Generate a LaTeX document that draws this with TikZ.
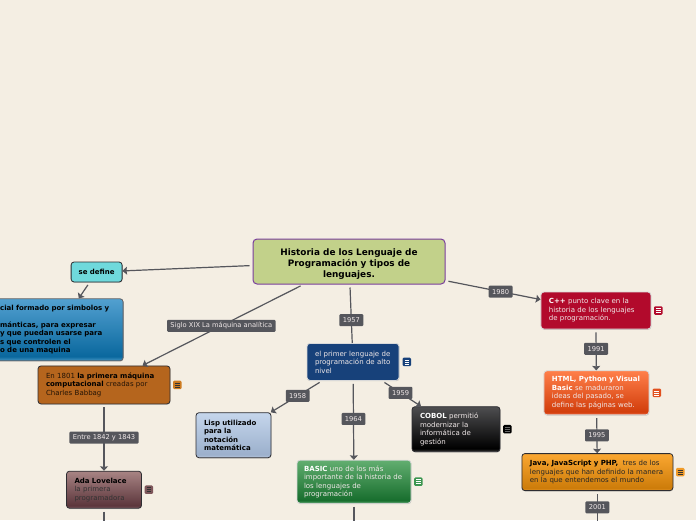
\documentclass[tikz,border=0pt]{standalone}
\usepackage{fontspec}
\setmainfont{DejaVu Sans}
\usetikzlibrary{arrows.meta, positioning, shadows}
\definecolor{mapBg}{RGB}{244,238,227}
\definecolor{mapLine}{RGB}{85,86,92}
\definecolor{mapEdge}{RGB}{45,45,50}
\definecolor{mapRoot}{RGB}{194,209,138}
\definecolor{mapPurple}{RGB}{122,62,157}
\definecolor{mapNavy}{RGB}{23,65,122}
\definecolor{mapBrown}{RGB}{181,101,29}
\definecolor{mapCrimson}{RGB}{178,10,44}
\definecolor{mapCyan}{RGB}{111,217,220}
\definecolor{mapNoteGreen}{RGB}{60,150,80}
\definecolor{mapNoteRed}{RGB}{225,80,30}
\definecolor{mapNoteOrange}{RGB}{240,155,40}
\definecolor{mapNoteRose}{RGB}{125,85,90}
\definecolor{softWhite}{RGB}{240,232,232}
\newcommand{\lipshading}[4]{\pgfdeclareverticalshading{#1}{100bp}{%
    color(0bp)=(#4); color(25bp)=(#4); color(28.5bp)=(#3); color(75bp)=(#2); color(100bp)=(#2)}}
\definecolor{skyTop}{RGB}{82,160,208}    \definecolor{skyBot}{RGB}{10,104,158}    \definecolor{skyLip}{RGB}{70,150,195}
\definecolor{roseTop}{RGB}{168,132,132}  \definecolor{roseBot}{RGB}{92,54,60}     \definecolor{roseLip}{RGB}{125,90,95}
\definecolor{iceTop}{RGB}{197,214,236}   \definecolor{iceBot}{RGB}{156,176,204}   \definecolor{iceLip}{RGB}{185,200,222}
\definecolor{inkTop}{RGB}{78,78,80}      \definecolor{inkBot}{RGB}{0,0,0}         \definecolor{inkLip}{RGB}{60,60,60}
\definecolor{leafTop}{RGB}{98,174,112}   \definecolor{leafBot}{RGB}{24,110,46}    \definecolor{leafLip}{RGB}{70,150,90}
\definecolor{flameTop}{RGB}{255,127,74}  \definecolor{flameBot}{RGB}{210,62,12}   \definecolor{flameLip}{RGB}{235,100,60}
\definecolor{amberTop}{RGB}{251,167,49}  \definecolor{amberBot}{RGB}{205,124,10}  \definecolor{amberLip}{RGB}{235,150,40}
\lipshading{skyfade}{skyTop}{skyBot}{skyLip}
\lipshading{rosefade}{roseTop}{roseBot}{roseLip}
\lipshading{icefade}{iceTop}{iceBot}{iceLip}
\lipshading{inkfade}{inkTop}{inkBot}{inkLip}
\lipshading{leaffade}{leafTop}{leafBot}{leafLip}
\lipshading{flamefade}{flameTop}{flameBot}{flameLip}
\lipshading{amberfade}{amberTop}{amberBot}{amberLip}
\tikzset{
    mapa/.style={>={Stealth[length=4.5pt,width=8pt,inset=.5pt]}, x=1pt, y=-1pt,
                 font=\fontsize{7}{8.5}\selectfont},
    topic/.style={draw=mapEdge, line width=.8pt, rounded corners=3pt, align=left,
                  inner xsep=8pt, inner ysep=2pt,
                  drop shadow={shadow xshift=.4pt, shadow yshift=-.8pt, opacity=.35}},
    lighttopic/.style={topic, draw=white!85!black, text=softWhite},
    faded/.style={shade, shading=#1},
    rootnode/.style={draw=mapPurple, line width=1pt, rounded corners=4pt, fill=mapRoot,
                     align=center, minimum width=192pt, minimum height=45pt,
                     font=\fontsize{8.9}{10.8}\selectfont\bfseries},
    arrow/.style={->, line width=1.2pt, draw=mapLine, shorten <=3pt},
    plainlink/.style={line width=1.2pt, draw=mapLine, shorten <=3pt},
    flowlabel/.style={fill=mapLine, text=softWhite, rounded corners=1pt, inner xsep=3.4pt,
                      inner ysep=0pt, minimum height=12pt, font=\fontsize{6.7}{7}\selectfont},
    notemark/.style 2 args={fill=#1, rounded corners=1.2pt, minimum size=8.5pt, inner sep=0pt,
                  path picture={\foreach \yy in {-2,0,2}
                      \draw[#2, line width=.6pt]
                      ([shift={(-2.3pt,\yy pt)}]path picture bounding box.center) --
                      ([shift={(2.3pt,\yy pt)}]path picture bounding box.center);}},
}

\begin{document}
\begin{tikzpicture}[mapa]

\path[use as bounding box, fill=mapBg] (0,0) rectangle (696,520);
\clip (0,0) rectangle (696,520);

% ─── Tema central ───────────────────────────────────────────
\node[rootnode] (root) at (349,261.5)
    {\rule{0pt}{12pt}Historia de los Lenguaje de\\Programación y tipos de\\lenguajes.};

% ─── Rama izquierda ─────────────────────────────────────────
\node[topic, fill=mapCyan, minimum width=51pt, minimum height=20pt, align=center, inner xsep=2pt,
      left=130pt of root, yshift=-10.5pt] (define) {\textbf{se define}};
\node[topic, faded=skyfade, draw=mapEdge!75, minimum height=62pt, text width=115pt,
      below=16pt of define, xshift=-39pt] (lenguaje)
    {\textbf{cial formado por simbolos y}\\[8.5pt]\textbf{mánticas, para expresar}\\
     \textbf{y que puedan usarse para}\\\textbf{s que controlen el}\\\textbf{o de una maquina}};
\node[topic, fill=mapBrown, text=black!80!mapBrown, minimum height=38pt, text width=116pt,
      below=81pt of root, xshift=-245pt] (babbage)
    {En 1801 \textbf{\color{black}la primera máquina}\\\textbf{\color{black}computacional} creadas por\\Charles Babbag};
\node[topic, faded=rosefade, text=black!80, minimum height=37pt, text width=59pt,
      below=66.5pt of babbage] (ada)
    {\textbf{\color{black}Ada Lovelace}\\la primera\\programadora};

% ─── Rama central ───────────────────────────────────────────
\node[lighttopic, fill=mapNavy, minimum height=37pt, text width=76pt,
      below=58.5pt of root, xshift=4pt] (altonivel)
    {el primer lenguaje de\\programación de alto\\nivel};
\node[topic, faded=icefade, minimum height=45pt, text width=59pt,
      below=31.5pt of altonivel, xshift=-119.5pt] (lisp)
    {\textbf{Lisp utilizado}\\\textbf{para la}\\\textbf{notación}\\\textbf{matemática}};
\node[topic, faded=inkfade, text=softWhite, minimum height=45pt, text width=72pt,
      below=25.5pt of altonivel, xshift=103pt] (cobol)
    {\textbf{\color{white}COBOL} permitió\\modernizar la\\informática de\\gestión};
\node[lighttopic, faded=leaffade, inner xsep=7pt, minimum height=43pt, text width=100pt,
      below=79pt of altonivel, xshift=1pt] (basic)
    {\textbf{\color{white}BASIC} uno de los más\\importante de la historia de\\los lenguajes de\\programación};

% ─── Rama derecha ───────────────────────────────────────────
\node[lighttopic, fill=mapCrimson, minimum height=37pt, text width=94pt,
      right=95pt of root, yshift=-49pt] (cpp)
    {\textbf{\color{white}C++} punto clave en la\\historia de los lenguajes\\de programación.};
\node[lighttopic, faded=flamefade, minimum height=44pt, text width=89pt,
      below=41pt of cpp, xshift=.5pt] (html)
    {\textbf{\color{white}HTML, Python y Visual}\\\textbf{\color{white}Basic} se maduraron\\ideas del pasado, se\\define las páginas web.};
\node[topic, faded=amberfade, text=black!85, minimum height=37pt, text width=135pt,
      below=38pt of html, xshift=1pt] (java)
    {\textbf{\color{black}Java, JavaScript y PHP,}\ \ tres de los\\lenguajes que han definido la manera\\en la que entendemos el mundo};

% ─── Marcas de nota ─────────────────────────────────────────
\node[notemark={mapNoteOrange!40!mapBrown}{black!80}, right=2.5pt of babbage] (babbagenote) {};
\node[notemark={mapNoteRose}{black!80}, right=2.5pt of ada] (adanote) {};
\node[notemark={mapNavy}{white}, right=3pt of altonivel] (altonivelnote) {};
\node[notemark={black}{black!60!white}, right=2.5pt of cobol] (cobolnote) {};
\node[notemark={mapNoteGreen}{white}, right=2.5pt of basic] (basicnote) {};
\node[notemark={mapCrimson}{white}, right=2.5pt of cpp] (cppnote) {};
\node[notemark={mapNoteRed}{white}, right=3pt of html] (htmlnote) {};
\node[notemark={mapNoteOrange}{black!80}, right=2.5pt of java] (javanote) {};

% ─── Extremos libres ────────────────────────────────────────
\coordinate[below=40pt of ada]   (adaend);
\coordinate[below=40pt of basic] (basicend);
\coordinate[below=40pt of java]  (javaend);

% ─── Conectores ─────────────────────────────────────────────
\draw[arrow] (root) -- (define);
\draw[arrow] (define) -- (lenguaje);
\draw[arrow] (root) -- node[flowlabel, pos=.51] (siglo) {Siglo XIX La máquina analítica} (babbage);
\draw[plainlink] (root) -- node[flowlabel, pos=.61] (l1957) {1957} (altonivel);
\draw[arrow] (root) -- node[flowlabel, pos=.58] (l1980) {1980} (cpp);
\draw[arrow] (babbage) -- node[flowlabel, pos=.5] (l1842) {Entre 1842 y 1843} (ada);
\draw[arrow] (altonivel) -- node[flowlabel, pos=.477] (l1958) {1958} (lisp);
\draw[arrow] (altonivel) -- node[flowlabel, pos=.476] (l1959) {1959} (cobol);
\draw[arrow] (altonivel) -- node[flowlabel, pos=.483] (l1964) {1964} (basic);
\draw[arrow] (cpp) -- node[flowlabel, pos=.472] (l1991) {1991} (html);
\draw[arrow] (html) -- node[flowlabel, pos=.53] (l1995) {1995} (java);
\draw[plainlink] (java) -- node[flowlabel, pos=.41] (l2001) {2001} (javaend);
\draw[plainlink] (ada) -- (adaend);
\draw[plainlink] (basic) -- (basicend);

\end{tikzpicture}
\end{document}
